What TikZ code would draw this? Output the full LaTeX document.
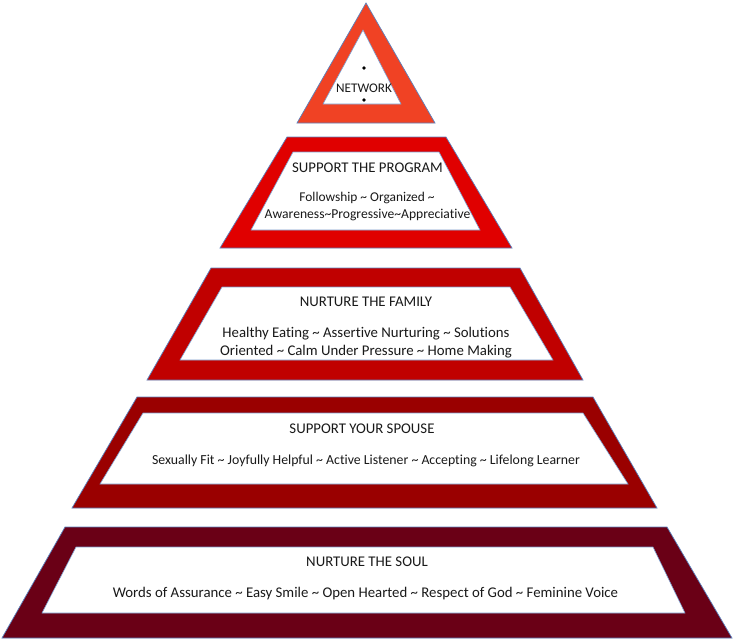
\documentclass[tikz,border=0pt]{standalone}
\usepackage{fontspec}
\setmainfont{Carlito}[Ligatures=NoCommon]
\definecolor{lvA}{RGB}{240,66,36}
\definecolor{lvB}{RGB}{224,0,0}
\definecolor{lvC}{RGB}{192,0,0}
\definecolor{lvD}{RGB}{154,0,0}
\definecolor{lvE}{RGB}{106,0,22}
\definecolor{edgeblue}{RGB}{90,130,190}
\begin{document}
\begin{tikzpicture}[x=1pt,y=-1pt,
  band/.style={draw=edgeblue,line width=0.7pt},
  hole/.style={fill=white,draw=edgeblue!80,line width=0.6pt},
  lbl/.style={font=\fontsize{14.8}{17}\selectfont,inner sep=0pt,anchor=base,text=black!90},
  fs/.style={font=\fontsize{#1}{17}\selectfont},
  dotb/.style={circle,fill=black,inner sep=0pt,minimum size=3.6pt}]
\useasboundingbox (0,0) rectangle (733,640);
% level 1 triangle
\filldraw[fill=lvA,band] (366,3) -- (435,123) -- (297,123) -- cycle;
\filldraw[hole] (363,30) -- (401,104) -- (323,104) -- cycle;
% level 2
\filldraw[fill=lvB,band] (287,137) -- (446,137) -- (512,248) -- (220,248) -- cycle;
\filldraw[hole] (293,152) -- (439,152) -- (480,230) -- (251,230) -- cycle;
% level 3
\filldraw[fill=lvC,band] (211,268) -- (520,268) -- (583,380) -- (147,380) -- cycle;
\filldraw[hole] (222,287) -- (510,287) -- (553,360) -- (180,360) -- cycle;
% level 4
\filldraw[fill=lvD,band] (137,397) -- (593,397) -- (657,508) -- (72,508) -- cycle;
\filldraw[hole] (143,413) -- (583,413) -- (628,484) -- (100,484) -- cycle;
% level 5
\filldraw[fill=lvE,band] (65,527) -- (667,527) -- (732,638) -- (2,638) -- cycle;
\filldraw[hole] (76,547) -- (653,547) -- (685,613) -- (42,613) -- cycle;
% texts
\node[dotb] (d1) at (364,68) {};
\node[lbl,fs=13.2] (net) at (364,92) {NETWORK};
\node[dotb] (d2) at (364,100) {};
\node[lbl] (prog) at (367.5,172) {SUPPORT THE PROGRAM};
\node[lbl,fs=13.4] (prog1) at (367,201) {Followship \textasciitilde{} Organized \textasciitilde};
\node[lbl,fs=13.6] (prog2) at (367.5,218) {Awareness\textasciitilde Progressive\textasciitilde Appreciative};
\node[lbl] (fam) at (366,306) {NURTURE THE FAMILY};
\node[lbl] (fam1) at (366,337) {Healthy Eating \textasciitilde{} Assertive Nurturing \textasciitilde{} Solutions};
\node[lbl] (fam2) at (366,355) {Oriented \textasciitilde{} Calm Under Pressure \textasciitilde{} Home Making};
\node[lbl] (sp) at (362,433) {SUPPORT YOUR SPOUSE};
\node[lbl,fs=13.8] (sp1) at (366,464) {Sexually Fit \textasciitilde{} Joyfully Helpful \textasciitilde{} Active Listener \textasciitilde{} Accepting \textasciitilde{} Lifelong Learner};
\node[lbl] (soul) at (367,566) {NURTURE THE SOUL};
\node[lbl] (soul1) at (365.5,597) {Words of Assurance \textasciitilde{} Easy Smile \textasciitilde{} Open Hearted \textasciitilde{} Respect of God \textasciitilde{} Feminine Voice};
\end{tikzpicture}
\end{document}
